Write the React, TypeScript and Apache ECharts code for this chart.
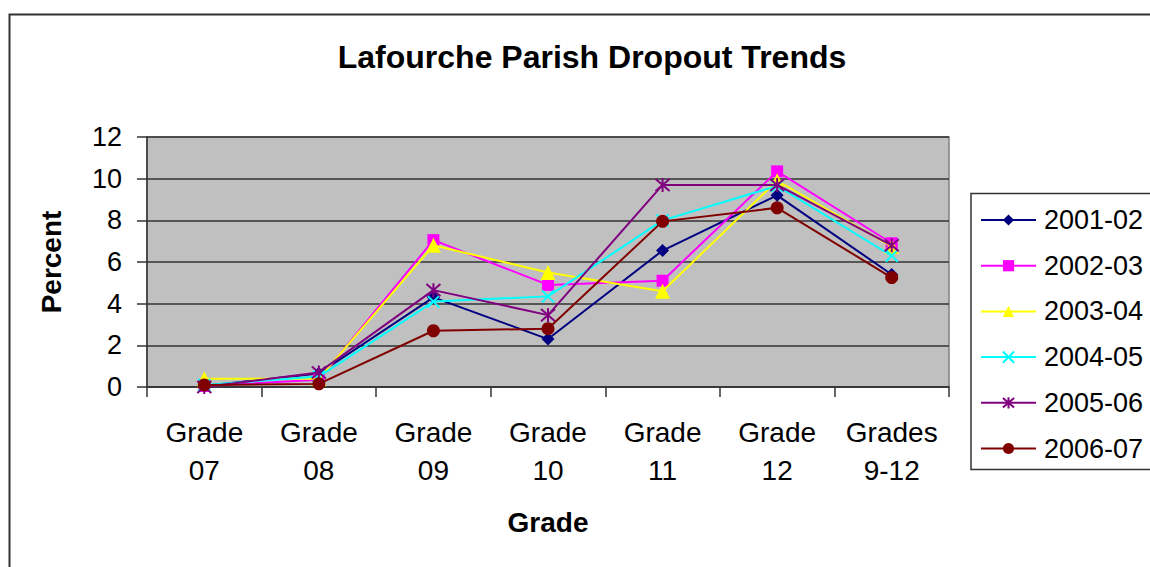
import React, { useEffect, useRef } from "react";
import * as echarts from "echarts";

const categories = ["Grade\n07", "Grade\n08", "Grade\n09", "Grade\n10", "Grade\n11", "Grade\n12", "Grades\n9-12"];
const seriesNames = ["2001-02", "2002-03", "2003-04", "2004-05", "2005-06", "2006-07"];
const s2001 = [0.05, 0.65, 4.3, 2.3, 6.55, 9.2, 5.4];
const s2002 = [0.05, 0.35, 7.05, 4.9, 5.1, 10.35, 6.9];
const s2003 = [0.4, 0.4, 6.8, 5.5, 4.6, 9.9, 6.75];
const s2004 = [0.1, 0.5, 4.1, 4.35, 8.0, 9.65, 6.3];
const s2005 = [0.0, 0.7, 4.65, 3.45, 9.7, 9.7, 6.8];
const s2006 = [0.1, 0.15, 2.7, 2.8, 7.95, 8.6, 5.25];
const yTicks = { min: 0, max: 12, interval: 2 };

const colors = ["#000080", "#FF00FF", "#FFFF00", "#00FFFF", "#800080", "#800000"];
const symbols = [
  "diamond",
  "rect",
  "triangle",
  "path://M0,0L10,10M10,0L0,10",
  "path://M5,0L5,10M0.7,0.7L9.3,9.3M9.3,0.7L0.7,9.3",
  "circle",
];
const symbolSizes = [13, 12, 15, 12, 14, 13];
const allData = [s2001, s2002, s2003, s2004, s2005, s2006];

const FONT = "'Liberation Sans', Arial, sans-serif";

export default function App() {
  const ref = useRef<HTMLDivElement>(null);
  useEffect(() => {
    document.body.style.margin = "0";
    const chart = echarts.init(ref.current!, null, { renderer: "svg" });
    const series = seriesNames.map((name, i) => {
      const stroked = symbols[i].startsWith("path://");
      return {
        name,
        type: "line",
        data: allData[i],
        symbol: symbols[i],
        symbolSize: symbolSizes[i],
        showAllSymbol: true,
        lineStyle: { color: colors[i], width: 2 },
        itemStyle: {
          color: colors[i],
          borderColor: colors[i],
          borderWidth: stroked ? 2 : 0,
          opacity: 1,
        },
        emphasis: { disabled: true },
        z: 2 + i,
      };
    });
    chart.setOption({
      animation: false,
      textStyle: { fontFamily: FONT },
      title: {
        text: "Lafourche Parish Dropout Trends",
        left: 587,
        top: 36,
        textAlign: "center",
        textStyle: { fontSize: 32, fontWeight: "bold", color: "#000", fontFamily: FONT },
      },
      graphic: [
        {
          type: "rect",
          shape: { x: 9.5, y: 14.5, width: 1200, height: 600 },
          style: { fill: "none", stroke: "#333", lineWidth: 2 },
          z: -1,
          silent: true,
        },
        {
          type: "rect",
          shape: { x: 971, y: 193.5, width: 300, height: 276 },
          style: { fill: "#fff", stroke: "#333", lineWidth: 1.5 },
          z: 0,
          silent: true,
        },
      ],
      legend: {
        orient: "vertical",
        left: 975,
        top: 200,
        itemWidth: 55,
        itemHeight: 14,
        itemGap: 15.7,
        data: seriesNames,
        textStyle: { fontSize: 27, color: "#000", fontFamily: FONT, lineHeight: 30, padding: [0, 0, 0, 3] },
        z: 10,
      },
      grid: {
        left: 147,
        top: 137,
        right: 201,
        bottom: 180,
        show: true,
        backgroundColor: "#C0C0C0",
        borderColor: "#808080",
        borderWidth: 1.5,
      },
      xAxis: {
        type: "category",
        data: categories,
        boundaryGap: true,
        name: "Grade",
        nameLocation: "middle",
        nameGap: 121,
        nameTextStyle: { fontSize: 28, fontWeight: "bold", color: "#000", fontFamily: FONT },
        axisLine: { lineStyle: { color: "#333", width: 1.5 } },
        axisTick: { show: true, length: 10, lineStyle: { color: "#333", width: 1.5 } },
        axisLabel: { fontSize: 28, color: "#000", lineHeight: 38, margin: 26, interval: 0, fontFamily: FONT },
      },
      yAxis: {
        type: "value",
        min: yTicks.min,
        max: yTicks.max,
        interval: yTicks.interval,
        name: "Percent",
        nameLocation: "middle",
        nameGap: 82,
        nameTextStyle: { fontSize: 28, fontWeight: "bold", color: "#000", fontFamily: FONT },
        axisLine: { show: true, lineStyle: { color: "#333", width: 1.5 } },
        axisTick: { show: true, length: 10, lineStyle: { color: "#333", width: 1.5 } },
        axisLabel: { fontSize: 27, color: "#000", margin: 25, fontFamily: FONT },
        splitLine: { show: true, lineStyle: { color: "#333", width: 1.5 } },
      },
      series,
    });
    return () => chart.dispose();
  }, []);
  return <div ref={ref} style={{ width: 1150, height: 567 }} />;
}
